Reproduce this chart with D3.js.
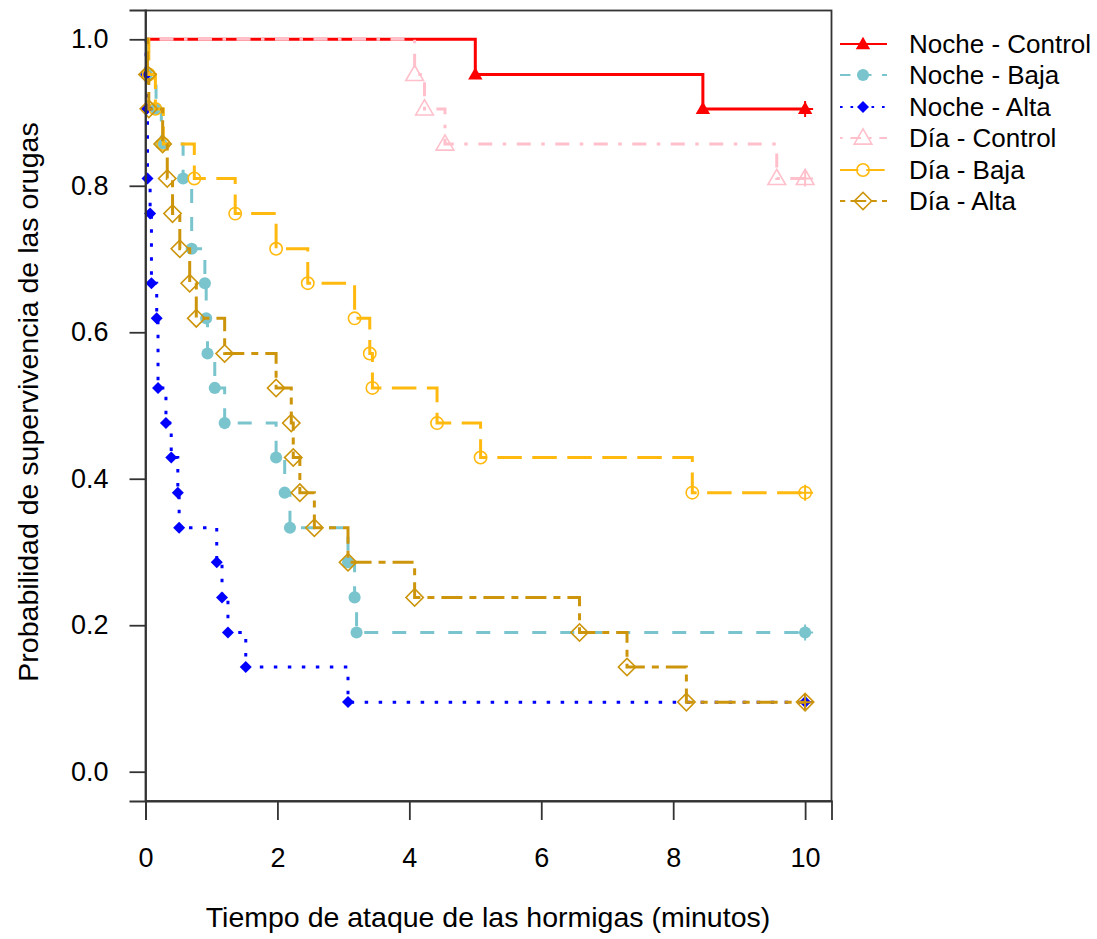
<!DOCTYPE html>
<html>
<head>
<meta charset="utf-8">
<script src="https://cdn.jsdelivr.net/npm/d3@7"></script>
<style>
  body { margin: 0; background: #fff; }
  text { font-family: "Liberation Sans", Arial, sans-serif; fill: #000; }
</style>
</head>
<body>
<div id="grafico"></div>
<script>
// curvas de supervivencia: [tiempo (min), probabilidad] en cada evento
var nocheControl = [[5.00,0.952],[8.45,0.905]];
var nocheBaja = [[0.02,0.952],[0.16,0.905],[0.24,0.857],[0.57,0.810],[0.70,0.714],[0.90,0.667],[0.92,0.619],[0.94,0.571],
                 [1.05,0.524],[1.20,0.476],[1.98,0.429],[2.11,0.381],[2.19,0.333],[3.07,0.286],[3.17,0.238],[3.20,0.190]];
var nocheAlta = [[0.01,0.952],[0.02,0.905],[0.03,0.810],[0.07,0.762],[0.09,0.667],[0.17,0.619],[0.19,0.524],[0.31,0.476],
                 [0.39,0.429],[0.49,0.381],[0.51,0.333],[1.08,0.286],[1.16,0.238],[1.25,0.190],[1.52,0.143],[3.07,0.095]];
var diaControl = [[4.08,0.952],[4.23,0.905],[4.54,0.857],[9.57,0.810]];
var diaBaja = [[0.05,0.952],[0.15,0.905],[0.27,0.857],[0.74,0.810],[1.36,0.762],[1.98,0.714],[2.46,0.667],[3.17,0.619],
               [3.40,0.571],[3.44,0.524],[4.42,0.476],[5.08,0.429],[8.29,0.381]];
var diaAlta = [[0.03,0.952],[0.05,0.905],[0.26,0.857],[0.33,0.810],[0.41,0.762],[0.52,0.714],[0.67,0.667],[0.77,0.619],
               [1.20,0.571],[1.98,0.524],[2.21,0.476],[2.24,0.429],[2.34,0.381],[2.56,0.333],[3.07,0.286],[4.08,0.238],
               [6.58,0.190],[7.30,0.143],[8.20,0.095]];
var tiempoFin = 10;   // censura al final del ensayo

var nombres = ["Noche - Control","Noche - Baja","Noche - Alta","Día - Control","Día - Baja","Día - Alta"];
var curvas = [nocheControl, nocheBaja, nocheAlta, diaControl, diaBaja, diaAlta];
var colores = ["#FF0000","#7AC5CD","#0000FF","#FFC0CB","#FFB90F","#CD950C"];
var u = 3.5;
var trazos = [null, [4*u,4*u], [1*u,3*u], [1*u,3*u,4*u,3*u], [7*u,3*u], [2*u,2*u,6*u,2*u]];
// tipo de simbolo: tri lleno, circ lleno, rombo lleno, tri abierto, circ abierto, rombo abierto
var simbolos = ["triF","circF","romF","triA","circA","romA"];

var xTicks = [0,2,4,6,8,10];
var yTicks = [0,0.2,0.4,0.6,0.8,1.0];

var svg = d3.select("#grafico").append("svg")
  .attr("width",1097)
  .attr("height",939);

var x = d3.scaleLinear().domain([0,10.4]).range([145.5,831.5]);
var y = d3.scaleLinear().domain([-0.04,1.04]).range([801,10]);

function simbolo(g, tipo, col, cx, cy){
  var p;
  if(tipo=="triF") p=g.append("path").attr("d",d3.symbol(d3.symbolTriangle,90)()).attr("fill",col);
  if(tipo=="triA") p=g.append("path").attr("d",d3.symbol(d3.symbolTriangle,135)()).attr("fill","none").attr("stroke",col).attr("stroke-width",1.6);
  if(tipo=="circF") p=g.append("path").attr("d",d3.symbol(d3.symbolCircle,115)()).attr("fill",col);
  if(tipo=="circA") p=g.append("path").attr("d",d3.symbol(d3.symbolCircle,120)()).attr("fill","none").attr("stroke",col).attr("stroke-width",1.6);
  if(tipo=="romF") p=g.append("path").attr("d",d3.symbol(d3.symbolSquare,72)()).attr("fill",col);
  if(tipo=="romA") p=g.append("path").attr("d",d3.symbol(d3.symbolSquare,150)()).attr("fill","none").attr("stroke",col).attr("stroke-width",1.6);
  var rot = (tipo=="romF"||tipo=="romA") ? " rotate(45)" : "";
  var dy = (tipo=="triF"||tipo=="triA") ? 1 : 0;
  p.attr("transform","translate("+cx+","+(cy+dy)+")"+rot);
}

function cruz(g, col, cx, cy){
  g.append("path")
    .attr("d","M"+(cx-8)+","+cy+"H"+(cx+8)+"M"+cx+","+(cy-8)+"V"+(cy+8))
    .attr("stroke",col).attr("stroke-width",2).attr("fill","none");
}

var linea = d3.line()
  .x(function(d){ return x(d[0]); })
  .y(function(d){ return y(d[1]); })
  .curve(d3.curveStepAfter);

var capa = svg.append("g");
curvas.forEach(function(c, i){
  var ultimo = c[c.length-1][1];
  var pts = [[0,1]].concat(c).concat([[tiempoFin, ultimo]]);
  capa.append("path")
    .attr("d", linea(pts))
    .attr("fill","none")
    .attr("stroke",colores[i])
    .attr("stroke-width",3)
    .attr("stroke-dasharray", trazos[i] ? trazos[i].join(",") : null);
  c.forEach(function(d){
    simbolo(capa, simbolos[i], colores[i], x(d[0]), y(d[1]));
  });
  simbolo(capa, simbolos[i], colores[i], x(tiempoFin), y(ultimo));
  cruz(capa, colores[i], x(tiempoFin), y(ultimo));
});

// caja
svg.append("rect")
  .attr("x",145.5).attr("y",10.5)
  .attr("width",686).attr("height",790.5)
  .attr("fill","none").attr("stroke","#333").attr("stroke-width",1.8);

var ejeX = svg.append("g")
  .attr("transform","translate(0,801)")
  .call(d3.axisBottom(x).tickValues(xTicks).tickSize(19).tickPadding(28));
ejeX.selectAll("text").style("font-size","27px");

var ejeY = svg.append("g")
  .attr("transform","translate(145.5,0)")
  .call(d3.axisLeft(y).tickValues(yTicks).tickFormat(d3.format(".1f")).tickSize(16).tickPadding(21));
ejeY.selectAll("text").style("font-size","27px");

svg.selectAll(".domain").attr("stroke","#333").attr("stroke-width",1.8);
svg.selectAll(".tick line").attr("stroke","#333").attr("stroke-width",1.8);

svg.append("text")
  .attr("x",488).attr("y",927)
  .attr("text-anchor","middle")
  .style("font-size","28.5px")
  .text("Tiempo de ataque de las hormigas (minutos)");

svg.append("text")
  .attr("transform","translate(38,402) rotate(-90)")
  .attr("text-anchor","middle")
  .style("font-size","28.5px")
  .text("Probabilidad de supervivencia de las orugas");

// leyenda fuera del grafico
var filas = [44,75,107,138,170,201];
var ley = svg.append("g");
nombres.forEach(function(n, i){
  ley.append("line")
    .attr("x1",840).attr("x2",887)
    .attr("y1",filas[i]).attr("y2",filas[i])
    .attr("stroke",colores[i]).attr("stroke-width",2)
    .attr("stroke-dasharray", trazos[i] ? trazos[i].map(function(v){return v*0.75;}).join(",") : null);
  simbolo(ley, simbolos[i], colores[i], 863, filas[i]);
  ley.append("text")
    .attr("x",909).attr("y",filas[i])
    .attr("dy","0.35em")
    .style("font-size","26px")
    .text(n);
});
</script>
</body>
</html>
